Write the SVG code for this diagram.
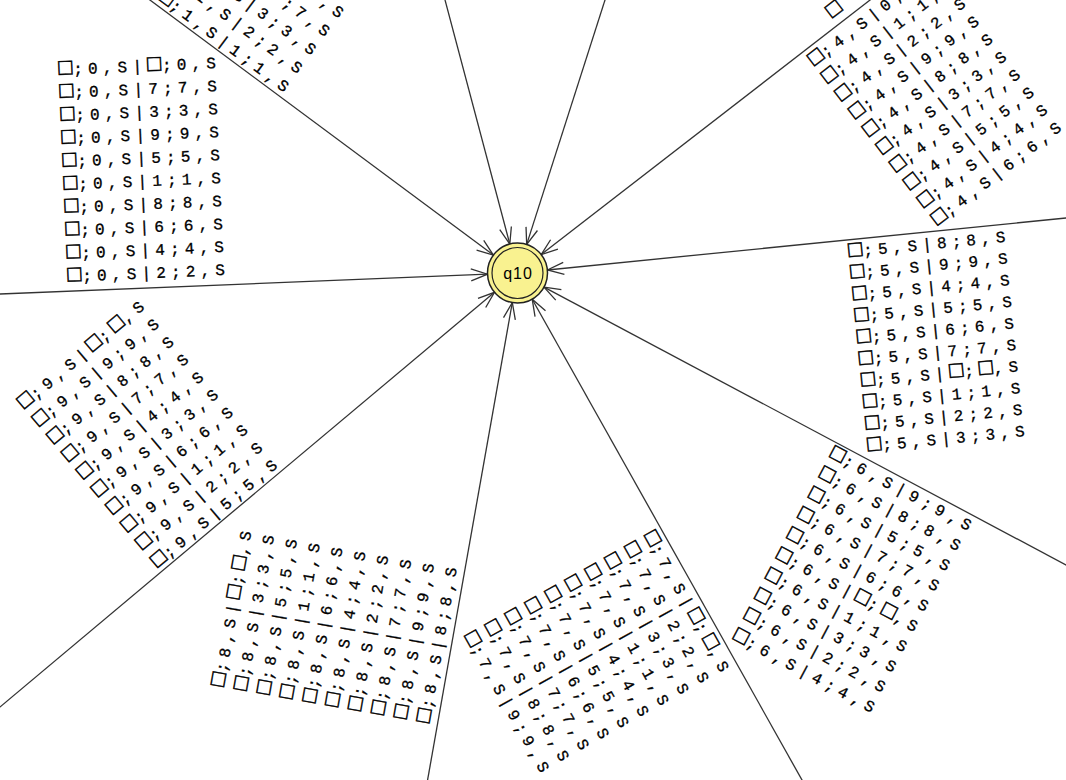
<svg xmlns="http://www.w3.org/2000/svg" width="1066" height="780" viewBox="0 0 1066 780">
<style>
.edge{stroke:#333;stroke-width:1.3;fill:none;marker-end:url(#arr)}
.lbl{font-family:"Liberation Mono","DejaVu Sans Mono",monospace;font-size:16px;letter-spacing:5.2px;fill:#000;stroke:#000;stroke-width:0.3}
.b{font-size:23px;letter-spacing:1px;stroke-width:0.5}
.st{font-family:"Liberation Sans",Arial,sans-serif;font-size:16px;fill:#000;text-anchor:middle;letter-spacing:1px}
</style>
<defs>
<marker id="arr" markerUnits="userSpaceOnUse" markerWidth="18" markerHeight="14" viewBox="0 0 18 14" refX="17.5" refY="7" orient="auto">
<path d="M1,1 L17.5,7 L1,13" fill="none" stroke="#333" stroke-width="1.3"/>
</marker>
</defs>
<rect width="1066" height="780" fill="#fff"/>
<g id="connectors">
<line class="edge" x1="143.2" y1="-5" x2="493.4" y2="255.1"/>
<line class="edge" x1="443.7" y1="-5" x2="509.8" y2="244"/>
<line class="edge" x1="606.6" y1="-5" x2="526.7" y2="244.4"/>
<line class="edge" x1="876.5" y1="-5" x2="541.2" y2="254.6"/>
<line class="edge" x1="1071" y1="217.5" x2="547.4" y2="270"/>
<line class="edge" x1="1071" y1="567.6" x2="544" y2="287.1"/>
<line class="edge" x1="804.8" y1="785" x2="532.2" y2="299.2"/>
<line class="edge" x1="426.7" y1="785" x2="512.3" y2="302.5"/>
<line class="edge" x1="-5" y1="711.2" x2="494.5" y2="292.3"/>
<line class="edge" x1="-5" y1="294.2" x2="487.5" y2="274.2"/>
</g>
<g id="labels">
<g id="label-1" class="lbl" transform="translate(157.2,-1.1) rotate(36.5)">
<text x="0" y="-92"><tspan class="b">□</tspan>;1,S|5;5,S</text>
<text x="0" y="-69"><tspan class="b">□</tspan>;1,S|7;7,S</text>
<text x="0" y="-46"><tspan class="b">□</tspan>;1,S|3;3,S</text>
<text x="0" y="-23"><tspan class="b">□</tspan>;1,S|2;2,S</text>
<text x="0" y="0"><tspan class="b">□</tspan>;1,S|1;1,S</text>
</g>
<g id="label-4" class="lbl" transform="translate(814.4,66.6) rotate(-37.7)">
<text x="0" y="0"><tspan class="b">□</tspan>;4,S|0;0,S</text>
<text x="0" y="22.4"><tspan class="b">□</tspan>;4,S|1;1,S</text>
<text x="0" y="44.8"><tspan class="b">□</tspan>;4,S|2;2,S</text>
<text x="0" y="67.2"><tspan class="b">□</tspan>;4,S|9;9,S</text>
<text x="0" y="89.6"><tspan class="b">□</tspan>;4,S|8;8,S</text>
<text x="0" y="112"><tspan class="b">□</tspan>;4,S|3;3,S</text>
<text x="0" y="134.4"><tspan class="b">□</tspan>;4,S|7;7,S</text>
<text x="0" y="156.8"><tspan class="b">□</tspan>;4,S|5;5,S</text>
<text x="0" y="179.2"><tspan class="b">□</tspan>;4,S|4;4,S</text>
<text x="0" y="201.6"><tspan class="b">□</tspan>;4,S|6;6,S</text>
</g>
<g id="label-x" class="lbl" transform="translate(832.4,18.6) rotate(-37.7)">
<text x="0" y="0"><tspan class="b">□</tspan></text>
</g>
<g id="label-5" class="lbl" transform="translate(849,257.2) rotate(-5.6)">
<text x="0" y="0"><tspan class="b">□</tspan>;5,S|8;8,S</text>
<text x="0" y="21.7"><tspan class="b">□</tspan>;5,S|9;9,S</text>
<text x="0" y="43.4"><tspan class="b">□</tspan>;5,S|4;4,S</text>
<text x="0" y="65.1"><tspan class="b">□</tspan>;5,S|5;5,S</text>
<text x="0" y="86.8"><tspan class="b">□</tspan>;5,S|6;6,S</text>
<text x="0" y="108.5"><tspan class="b">□</tspan>;5,S|7;7,S</text>
<text x="0" y="130.2"><tspan class="b">□</tspan>;5,S|<tspan class="b">□</tspan>;<tspan class="b">□</tspan>,S</text>
<text x="0" y="151.9"><tspan class="b">□</tspan>;5,S|1;1,S</text>
<text x="0" y="173.6"><tspan class="b">□</tspan>;5,S|2;2,S</text>
<text x="0" y="195.3"><tspan class="b">□</tspan>;5,S|3;3,S</text>
</g>
<g id="label-6" class="lbl" transform="translate(828.8,457.1) rotate(28)">
<text x="0" y="0"><tspan class="b">□</tspan>;6,S|9;9,S</text>
<text x="0" y="22.9"><tspan class="b">□</tspan>;6,S|8;8,S</text>
<text x="0" y="45.8"><tspan class="b">□</tspan>;6,S|5;5,S</text>
<text x="0" y="68.7"><tspan class="b">□</tspan>;6,S|7;7,S</text>
<text x="0" y="91.6"><tspan class="b">□</tspan>;6,S|6;6,S</text>
<text x="0" y="114.5"><tspan class="b">□</tspan>;6,S|<tspan class="b">□</tspan>;<tspan class="b">□</tspan>,S</text>
<text x="0" y="137.4"><tspan class="b">□</tspan>;6,S|1;1,S</text>
<text x="0" y="160.3"><tspan class="b">□</tspan>;6,S|3;3,S</text>
<text x="0" y="183.2"><tspan class="b">□</tspan>;6,S|2;2,S</text>
<text x="0" y="206.1"><tspan class="b">□</tspan>;6,S|4;4,S</text>
</g>
<g id="label-7" class="lbl" transform="translate(643.6,535.4) rotate(60.8)">
<text x="0" y="0"><tspan class="b">□</tspan>;7,S|<tspan class="b">□</tspan>;<tspan class="b">□</tspan>,S</text>
<text x="0" y="22.9"><tspan class="b">□</tspan>;7,S|2;2,S</text>
<text x="0" y="45.8"><tspan class="b">□</tspan>;7,S|3;3,S</text>
<text x="0" y="68.7"><tspan class="b">□</tspan>;7,S|1;1,S</text>
<text x="0" y="91.6"><tspan class="b">□</tspan>;7,S|4;4,S</text>
<text x="0" y="114.5"><tspan class="b">□</tspan>;7,S|5;5,S</text>
<text x="0" y="137.4"><tspan class="b">□</tspan>;7,S|6;6,S</text>
<text x="0" y="160.3"><tspan class="b">□</tspan>;7,S|7;7,S</text>
<text x="0" y="183.2"><tspan class="b">□</tspan>;7,S|8;8,S</text>
<text x="0" y="206.1"><tspan class="b">□</tspan>;7,S|9;9,S</text>
</g>
<g id="label-8" class="lbl" transform="translate(224,687.3) rotate(-80)">
<text x="0" y="0"><tspan class="b">□</tspan>;8,S|<tspan class="b">□</tspan>;<tspan class="b">□</tspan>,S</text>
<text x="0" y="23.2"><tspan class="b">□</tspan>;8,S|3;3,S</text>
<text x="0" y="46.4"><tspan class="b">□</tspan>;8,S|5;5,S</text>
<text x="0" y="69.6"><tspan class="b">□</tspan>;8,S|1;1,S</text>
<text x="0" y="92.8"><tspan class="b">□</tspan>;8,S|6;6,S</text>
<text x="0" y="116"><tspan class="b">□</tspan>;8,S|4;4,S</text>
<text x="0" y="139.2"><tspan class="b">□</tspan>;8,S|2;2,S</text>
<text x="0" y="162.4"><tspan class="b">□</tspan>;8,S|7;7,S</text>
<text x="0" y="185.6"><tspan class="b">□</tspan>;8,S|9;9,S</text>
<text x="0" y="208.8"><tspan class="b">□</tspan>;8,S|8;8,S</text>
</g>
<g id="label-9" class="lbl" transform="translate(24.6,409.6) rotate(-40)">
<text x="0" y="0"><tspan class="b">□</tspan>;9,S|<tspan class="b">□</tspan>;<tspan class="b">□</tspan>,S</text>
<text x="0" y="23"><tspan class="b">□</tspan>;9,S|9;9,S</text>
<text x="0" y="46"><tspan class="b">□</tspan>;9,S|8;8,S</text>
<text x="0" y="69"><tspan class="b">□</tspan>;9,S|7;7,S</text>
<text x="0" y="92"><tspan class="b">□</tspan>;9,S|4;4,S</text>
<text x="0" y="115"><tspan class="b">□</tspan>;9,S|3;3,S</text>
<text x="0" y="138"><tspan class="b">□</tspan>;9,S|6;6,S</text>
<text x="0" y="161"><tspan class="b">□</tspan>;9,S|1;1,S</text>
<text x="0" y="184"><tspan class="b">□</tspan>;9,S|2;2,S</text>
<text x="0" y="207"><tspan class="b">□</tspan>;9,S|5;5,S</text>
</g>
<g id="label-10" class="lbl" transform="translate(58.7,75) rotate(-2.5)">
<text x="0" y="0"><tspan class="b">□</tspan>;0,S|<tspan class="b">□</tspan>;0,S</text>
<text x="0" y="23"><tspan class="b">□</tspan>;0,S|7;7,S</text>
<text x="0" y="46"><tspan class="b">□</tspan>;0,S|3;3,S</text>
<text x="0" y="69"><tspan class="b">□</tspan>;0,S|9;9,S</text>
<text x="0" y="92"><tspan class="b">□</tspan>;0,S|5;5,S</text>
<text x="0" y="115"><tspan class="b">□</tspan>;0,S|1;1,S</text>
<text x="0" y="138"><tspan class="b">□</tspan>;0,S|8;8,S</text>
<text x="0" y="161"><tspan class="b">□</tspan>;0,S|6;6,S</text>
<text x="0" y="184"><tspan class="b">□</tspan>;0,S|4;4,S</text>
<text x="0" y="207"><tspan class="b">□</tspan>;0,S|2;2,S</text>
</g>
</g>
<g id="q10">
<circle cx="517.5" cy="273" r="30" fill="#f9f290" stroke="#222" stroke-width="1.5"/>
<circle cx="517.5" cy="273" r="25.5" fill="none" stroke="#222" stroke-width="1.2"/>
<text class="st" x="518" y="279">q10</text>
</g>
</svg>
